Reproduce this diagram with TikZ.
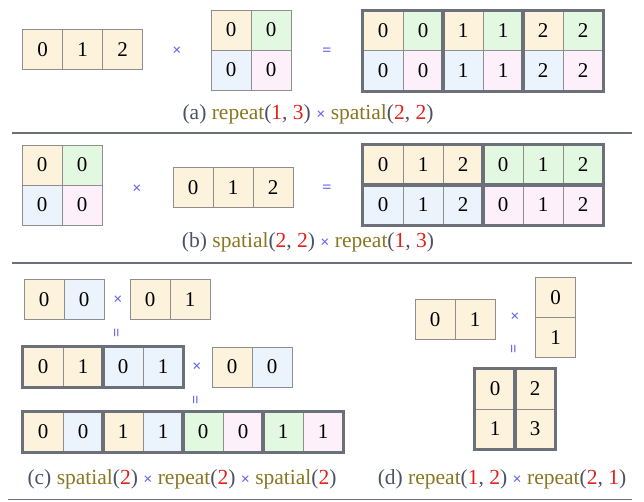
\documentclass[tikz,border=0pt]{standalone}
\usepackage{fontspec}
\setmainfont{Liberation Serif}
\definecolor{cY}{HTML}{FDF2DC}
\definecolor{cG}{HTML}{E3F8E1}
\definecolor{cB}{HTML}{EBF3FD}
\definecolor{cP}{HTML}{FDF0FA}
\definecolor{thinc}{HTML}{8E8E8E}
\definecolor{thickc}{HTML}{6B7079}
\definecolor{lbl}{HTML}{4B5263}
\definecolor{fnc}{HTML}{8A7520}
\definecolor{numc}{HTML}{E3201B}
\definecolor{opc}{HTML}{6666EE}
\newcommand\fnn[1]{\textcolor{fnc}{#1}}
\newcommand\nmb[1]{\textcolor{numc}{#1}}
\newcommand\tim{\textcolor{opc}{\fontsize{16}{16}\selectfont\bfseries ×}}
\begin{document}
\begin{tikzpicture}[x=1pt,y=-1pt,
  cell/.style={draw=thinc, line width=1pt, minimum width=40pt, minimum height=40pt, inner sep=0pt, font=\fontsize{21}{21}\selectfont},
  grp/.style={draw=thickc, line width=3pt},
  opn/.style={text=opc, font=\fontsize{16}{16}\selectfont\bfseries, inner sep=0pt},
  captxt/.style={font=\fontsize{21.5}{21.5}\selectfont, text=lbl, inner sep=0pt},
  sepl/.style={draw=thickc, line width=1.2pt}]
\useasboundingbox (0,0) rectangle (644,501);

% ---------- (a) ----------
\foreach \v [count=\i] in {0,1,2}
  \node[cell,fill=cY] (aL\i) at ({2.5+40*\i},49.5) {\v};
\node[opn] (aX) at (177,51) {×};
\node[cell,fill=cY] (aM11) at (231,30) {0};
\node[cell,fill=cG] (aM12) at (271,30) {0};
\node[cell,fill=cB] (aM21) at (231,70) {0};
\node[cell,fill=cP] (aM22) at (271,70) {0};
\node[opn] (aEq) at (327,52) {=};
\foreach \v/\ca/\cb [count=\i] in {0/cY/cB,0/cG/cP,1/cY/cB,1/cG/cP,2/cY/cB,2/cG/cP}{
  \node[cell,fill=\ca] (aR1\i) at ({343+40*\i},30.5) {\v};
  \node[cell,fill=\cb] (aR2\i) at ({343+40*\i},70.5) {\v};
}
\draw[grp] (aR11.north west) rectangle (aR22.south east);
\draw[grp] (aR13.north west) rectangle (aR24.south east);
\draw[grp] (aR15.north west) rectangle (aR26.south east);
\node[captxt] (capa) at (308,114) {(a) \fnn{repeat}(\nmb{1}, \nmb{3}) \tim{} \fnn{spatial}(\nmb{2}, \nmb{2})};

\draw[sepl] (12,133) -- (632,133);

% ---------- (b) ----------
\node[cell,fill=cY] (bM11) at (42,165) {0};
\node[cell,fill=cG] (bM12) at (82,165) {0};
\node[cell,fill=cB] (bM21) at (42,205) {0};
\node[cell,fill=cP] (bM22) at (82,205) {0};
\node[opn] (bX) at (137,189) {×};
\foreach \v [count=\i] in {0,1,2}
  \node[cell,fill=cY] (bL\i) at ({153+40*\i},187.5) {\v};
\node[opn] (bEq) at (327,189) {=};
\foreach \v/\ca/\cb [count=\i] in {0/cY/cB,1/cY/cB,2/cY/cB,0/cG/cP,1/cG/cP,2/cG/cP}{
  \node[cell,fill=\ca] (bR1\i) at ({343+40*\i},165) {\v};
  \node[cell,fill=\cb] (bR2\i) at ({343+40*\i},205) {\v};
}
\draw[grp] (bR11.north west) rectangle (bR13.south east);
\draw[grp] (bR14.north west) rectangle (bR16.south east);
\draw[grp] (bR21.north west) rectangle (bR23.south east);
\draw[grp] (bR24.north west) rectangle (bR26.south east);
\node[captxt] (capb) at (308,242) {(b) \fnn{spatial}(\nmb{2}, \nmb{2}) \tim{} \fnn{repeat}(\nmb{1}, \nmb{3})};

\draw[sepl] (12,263) -- (632,263);

% ---------- (c) ----------
\node[cell,fill=cY] (cA1) at (44,299.5) {0};
\node[cell,fill=cB] (cA2) at (84,299.5) {0};
\node[opn] (cX1) at (118,300) {×};
\node[cell,fill=cY] (cB1) at (150,299.5) {0};
\node[cell,fill=cY] (cB2) at (190,299.5) {1};
\node[opn,rotate=90] (cE1) at (118,333) {=};
\foreach \v/\c [count=\i] in {0/cY,1/cY,0/cB,1/cB}
  \node[cell,fill=\c] (cC\i) at ({3+40*\i},367) {\v};
\draw[grp] (cC1.north west) rectangle (cC2.south east);
\draw[grp] (cC3.north west) rectangle (cC4.south east);
\node[opn] (cX2) at (197,367) {×};
\node[cell,fill=cY] (cD1) at (232,367) {0};
\node[cell,fill=cB] (cD2) at (272,367) {0};
\node[opn,rotate=90] (cE2) at (197,400) {=};
\foreach \v/\c [count=\i] in {0/cY,0/cB,1/cY,1/cB,0/cG,0/cP,1/cG,1/cP}
  \node[cell,fill=\c] (cF\i) at ({3+40*\i},432) {\v};
\draw[grp] (cF1.north west) rectangle (cF2.south east);
\draw[grp] (cF3.north west) rectangle (cF4.south east);
\draw[grp] (cF5.north west) rectangle (cF6.south east);
\draw[grp] (cF7.north west) rectangle (cF8.south east);
\node[captxt] (capc) at (182,479) {(c) \fnn{spatial}(\nmb{2}) \tim{} \fnn{repeat}(\nmb{2}) \tim{} \fnn{spatial}(\nmb{2})};

% ---------- (d) ----------
\node[cell,fill=cY] (dA1) at (435,319.5) {0};
\node[cell,fill=cY] (dA2) at (475,319.5) {1};
\node[opn] (dX) at (515,317) {×};
\node[cell,fill=cY] (dB1) at (555.5,297.5) {0};
\node[cell,fill=cY] (dB2) at (555.5,337.5) {1};
\node[opn,rotate=90] (dE) at (515,349) {=};
\node[cell,fill=cY] (dR11) at (495,389) {0};
\node[cell,fill=cY] (dR12) at (535,389) {2};
\node[cell,fill=cY] (dR21) at (495,429) {1};
\node[cell,fill=cY] (dR22) at (535,429) {3};
\draw[grp] (dR11.north west) rectangle (dR21.south east);
\draw[grp] (dR12.north west) rectangle (dR22.south east);
\node[captxt] (capd) at (502,479) {(d) \fnn{repeat}(\nmb{1}, \nmb{2}) \tim{} \fnn{repeat}(\nmb{2}, \nmb{1})};

\draw[sepl] (8,499.5) -- (632,499.5);
\end{tikzpicture}
\end{document}
